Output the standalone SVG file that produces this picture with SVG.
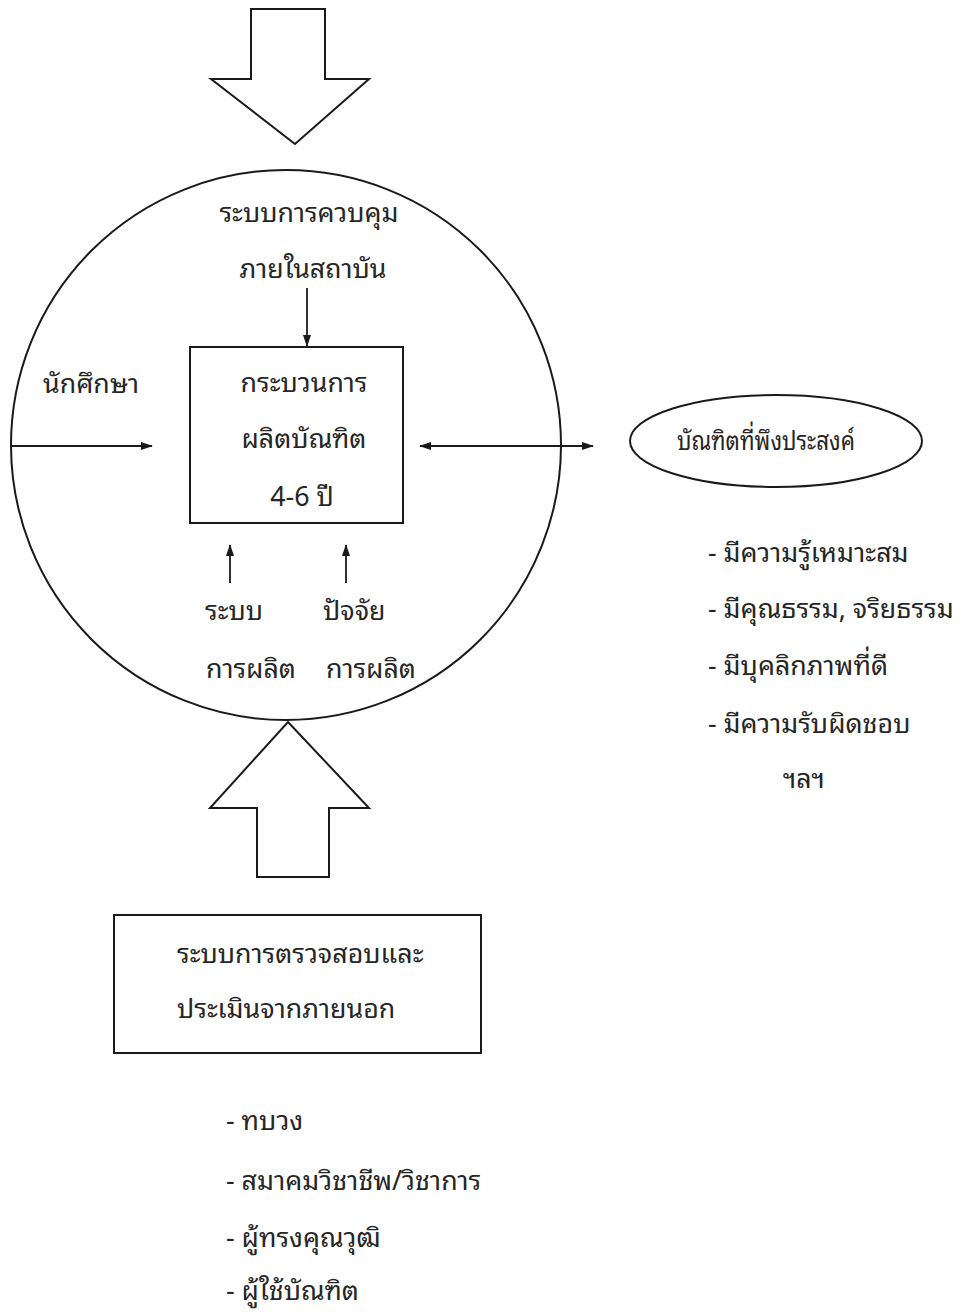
<svg xmlns="http://www.w3.org/2000/svg" width="978" height="1313" viewBox="0 0 978 1313">
<style>
.s{fill:none;stroke:#1a1a1a;stroke-width:2}
.c{fill:none;stroke:#1a1a1a;stroke-width:1.8}
text{font-family:"Noto Sans Thai Looped","Noto Sans Thai","Noto Sans","DejaVu Sans",sans-serif;font-size:26.8px;fill:#262626}
.m{text-anchor:middle}
</style>
<defs>
<marker id="ah" viewBox="0 0 12 10" refX="11" refY="5" markerWidth="12" markerHeight="10" markerUnits="userSpaceOnUse" orient="auto-start-reverse">
<path d="M0,1 L12,5 L0,9 Z" fill="#1a1a1a"/>
</marker>
</defs>
<rect width="978" height="1313" fill="#fff"/>
<g id="top-arrow">
<path class="s" d="M251,79 V9 H325 V79 H369 L295,144 L211,79 Z"/>
</g>
<g id="circle">
<circle class="s" cx="286" cy="445" r="275"/>
</g>
<g id="control">
<text class="m" x="309" y="222">ระบบการควบคุม</text>
<text class="m" x="313" y="278">ภายในสถาบัน</text>
</g>
<g id="student">
<text x="43" y="393">นักศึกษา</text>
</g>
<g id="process">
<rect class="s" x="190" y="347" width="213" height="176"/>
<text class="m" x="304" y="392">กระบวนการ</text>
<text class="m" x="304" y="448">ผลิตบัณฑิต</text>
<text class="m" x="302" y="506">4-6 ปี</text>
</g>
<g id="prod-system">
<text x="205" y="620">ระบบ</text>
<text x="206" y="678">การผลิต</text>
</g>
<g id="prod-factor">
<text x="323" y="620">ปัจจัย</text>
<text x="326" y="678">การผลิต</text>
</g>
<g id="graduate">
<ellipse class="s" cx="776" cy="441" rx="146" ry="46"/>
<text x="677" y="450" textLength="178" lengthAdjust="spacingAndGlyphs">บัณฑิตที่พึงประสงค์</text>
</g>
<g id="graduate-traits">
<text x="708" y="562">- มีความรู้เหมาะสม</text>
<text x="708" y="618">- มีคุณธรรม, จริยธรรม</text>
<text x="708" y="675">- มีบุคลิกภาพที่ดี</text>
<text x="708" y="733">- มีความรับผิดชอบ</text>
<text x="783" y="788">ฯลฯ</text>
</g>
<g id="bottom-arrow">
<path class="s" d="M257,808 V877 H329 V808 H369 L288,722 L210,808 Z"/>
</g>
<g id="external">
<rect class="s" x="114" y="915" width="367" height="138"/>
<text x="177" y="963">ระบบการตรวจสอบและ</text>
<text x="177" y="1018">ประเมินจากภายนอก</text>
</g>
<g id="external-list">
<text x="226" y="1130">- ทบวง</text>
<text x="226" y="1190">- สมาคมวิชาชีพ/วิชาการ</text>
<text x="226" y="1247">- ผู้ทรงคุณวุฒิ</text>
<text x="226" y="1300">- ผู้ใช้บัณฑิต</text>
</g>
<g id="connectors">
<line class="c" x1="307" y1="288" x2="307" y2="346" marker-end="url(#ah)"/>
<line class="c" x1="12" y1="446" x2="152" y2="446" marker-end="url(#ah)"/>
<line class="c" x1="420" y1="446" x2="593" y2="446" marker-start="url(#ah)" marker-end="url(#ah)"/>
<line class="c" x1="230" y1="583" x2="230" y2="545" marker-end="url(#ah)"/>
<line class="c" x1="346" y1="583" x2="346" y2="545" marker-end="url(#ah)"/>
</g>
</svg>
